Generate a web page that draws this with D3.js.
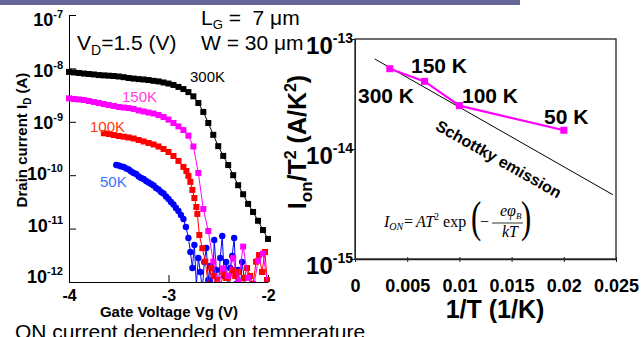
<!DOCTYPE html>
<html>
<head>
<meta charset="utf-8">
<script src="https://cdn.jsdelivr.net/npm/d3@7"></script>
<style>
  html, body { margin: 0; padding: 0; background: #fff; }
  svg { display: block; font-family: "Liberation Sans", Arial, sans-serif; }
  text { white-space: pre; }
</style>
</head>
<body>
<svg id="chart" width="644" height="337"></svg>
<script>
// ---------- left panel: Id-Vg curves ----------
const vgA = [-4.00, -3.95, -3.90, -3.85, -3.80, -3.75, -3.70, -3.65, -3.60, -3.55,
  -3.50, -3.45, -3.40, -3.35, -3.30, -3.25, -3.20, -3.15, -3.10, -3.05,
  -3.00, -2.95, -2.90, -2.85, -2.80, -2.75, -2.70, -2.65, -2.60, -2.55,
  -2.50, -2.45, -2.40, -2.35, -2.30, -2.25, -2.20, -2.15, -2.10, -2.05, -2.00];

const id300 = [8.6e-9, 8.4e-9, 8.2e-9, 8.0e-9, 7.85e-9, 7.7e-9, 7.5e-9, 7.4e-9, 7.3e-9, 7.2e-9,
  7.05e-9, 6.85e-9, 6.6e-9, 6.45e-9, 6.3e-9, 6.2e-9, 6.05e-9, 5.85e-9, 5.7e-9, 5.45e-9,
  5.2e-9, 4.9e-9, 4.5e-9, 4.1e-9, 3.6e-9, 3.0e-9, 2.25e-9, 1.53e-9, 9.5e-10, 5.7e-10,
  3.5e-10, 2.3e-10, 1.55e-10, 1.0e-10, 6.5e-11, 4.4e-11, 2.9e-11, 2.05e-11, 1.4e-11, 9.4e-12, 6.4e-12];

const id150 = [2.75e-9, 2.67e-9, 2.62e-9, 2.56e-9, 2.45e-9, 2.35e-9, 2.25e-9, 2.15e-9, 2.06e-9, 1.98e-9,
  1.89e-9, 1.85e-9, 1.81e-9, 1.74e-9, 1.63e-9, 1.56e-9, 1.49e-9, 1.43e-9, 1.34e-9, 1.23e-9,
  1.1e-9, 9.5e-10, 8.2e-10, 7.0e-10, 5.5e-10, 3.45e-10, 1.1e-10, 2.33e-11, 9.0e-12,
  2.4e-12, 9e-13, 1.8e-12, 1.3e-12, 2.8e-12, 1e-12, 4.6e-12, 1.2e-12, 7e-13, 2.5e-12, 3.4e-12, 8e-13];

const vg100 = [-3.65, -3.60, -3.55, -3.50, -3.45, -3.40, -3.35, -3.30, -3.25, -3.20,
  -3.15, -3.10, -3.05, -3.00, -2.95, -2.90, -2.85, -2.82, -2.80, -2.78,
  -2.76, -2.74, -2.72, -2.71, -2.69, -2.66,
  -2.63, -2.60, -2.57, -2.54, -2.51, -2.48, -2.45, -2.42, -2.39, -2.36,
  -2.33, -2.30, -2.27, -2.24, -2.21, -2.18, -2.15, -2.12, -2.09, -2.06, -2.03, -2.01];
const id100 = [6.1e-10, 5.9e-10, 5.66e-10, 5.42e-10, 5.26e-10, 5.08e-10, 4.87e-10, 4.56e-10, 4.28e-10, 4.01e-10,
  3.76e-10, 3.45e-10, 3.1e-10, 2.72e-10, 2.29e-10, 1.85e-10, 1.43e-10, 1.2e-10, 9.7e-11, 7.5e-11,
  5.3e-11, 3.74e-11, 2.54e-11, 1.88e-11, 7.6e-12, 4.3e-12,
  2.4e-12, 8.8e-13, 1.83e-12, 1.3e-12, 1.09e-12, 7.1e-13, 1.54e-12, 1.19e-12, 8.4e-13, 1.68e-12,
  1.3e-12, 1.54e-12, 7.1e-13, 1.19e-12, 1.83e-12, 1.3e-12, 9.2e-13, 2.4e-12, 3.2e-12, 1.54e-12, 3.65e-12, 1.09e-12];

const vg50 = [-3.525, -3.5, -3.475, -3.45, -3.425, -3.4, -3.375, -3.35, -3.325, -3.3,
  -3.275, -3.25, -3.225, -3.2, -3.175, -3.15, -3.125, -3.1, -3.075, -3.05,
  -3.025, -3.0, -2.975, -2.95, -2.925, -2.9, -2.875, -2.85, -2.825, -2.8,
  -2.78, -2.76, -2.74, -2.72, -2.70, -2.68, -2.66, -2.64, -2.62, -2.60,
  -2.58, -2.56, -2.54, -2.52, -2.50, -2.48, -2.46, -2.44, -2.42, -2.40,
  -2.38, -2.36, -2.34, -2.32, -2.30, -2.28, -2.26, -2.24, -2.22];
const id50 = [1.55e-10, 1.52e-10, 1.46e-10, 1.43e-10, 1.34e-10, 1.28e-10, 1.17e-10, 1.1e-10, 1.05e-10, 9.46e-11,
  8.87e-11, 8.5e-11, 7.79e-11, 7.3e-11, 6.84e-11, 6.41e-11, 5.75e-11, 5.4e-11, 4.84e-11, 4.54e-11,
  3.99e-11, 3.58e-11, 3.15e-11, 2.83e-11, 2.43e-11, 2.14e-11, 1.8e-11, 1.51e-11, 1.07e-11, 6.7e-12,
  3.65e-12, 1.83e-12, 4.93e-12, 8.8e-13, 2.81e-12, 1.54e-12, 7.1e-13, 2.37e-12, 4.33e-12, 1.09e-12,
  2.0e-12, 6.5e-13, 6.1e-12, 1.68e-12, 7.7e-13, 2.81e-12, 7.3e-12, 1.29e-12, 2.37e-12, 7.1e-13,
  1.83e-12, 3.07e-12, 6.7e-12, 9.2e-13, 1.68e-12, 6.5e-13, 2.37e-12, 1.19e-12, 8.4e-13];

const leftDecades = [1e-7, 1e-8, 1e-9, 1e-10, 1e-11, 1e-12];
const leftXTicks = [-4, -3, -2];

// ---------- right panel: Ion/T^2 vs 1/T ----------
const tempK = [300, 150, 100, 50];
const ionT2 = [5.37e-14, 4.12e-14, 2.48e-14, 1.48e-14];
const schottkyInvT = [0.0019, 0.0247];
const schottkyVal = [6.58e-14, 3.84e-15];
const rightDecades = [1e-13, 1e-14, 1e-15];
const rightXTicks = [0, 0.005, 0.01, 0.015, 0.02, 0.025];

const svg = d3.select('#chart');
const bold = 'bold';

// banner strip at the very top
svg.append('rect')
  .attr('x', 0).attr('y', 0).attr('width', 520).attr('height', 5)
  .attr('fill', '#666699');

// ===== left chart =====
const xL = d3.scaleLinear().domain([-4, -2]).range([69, 268]);
const yL = d3.scaleLog().domain([1e-12, 1e-7]).range([282, 15]);
const yLabL = d3.scaleLog().domain([1e-12, 1e-7]).range([283, 26]);

svg.append('clipPath').attr('id', 'clipL')
  .append('rect').attr('x', 60).attr('y', 0).attr('width', 220).attr('height', 282);

const left = svg.append('g');

left.append('g')
  .attr('transform', 'translate(69,0)')
  .call(d3.axisLeft(yL).tickValues(leftDecades).tickSize(-7).tickSizeOuter(0).tickFormat(''))
  .call(g => g.selectAll('line,path').attr('stroke', '#000'));

left.append('g')
  .attr('transform', 'translate(0,282)')
  .call(d3.axisBottom(xL).tickValues(leftXTicks).tickSize(-7).tickSizeOuter(0).tickPadding(8)
    .tickFormat(d3.format('d')))
  .call(g => g.selectAll('line,path').attr('stroke', '#000'))
  .call(g => g.selectAll('text')
    .attr('fill', '#000').attr('font-size', 16).attr('font-weight', bold)
    .attr('font-family', '"Liberation Sans", Arial, sans-serif')
    .text(d => String(d)));

// y tick labels 10^n
const yl = left.selectAll('.ylab').data(leftDecades).enter().append('text')
  .attr('class', 'ylab')
  .attr('x', 63).attr('y', d => yLabL(d))
  .attr('text-anchor', 'end').attr('font-weight', bold).attr('font-size', 18);
yl.append('tspan').text('10');
yl.append('tspan').attr('dy', -8).attr('font-size', 11).text(d => Math.round(Math.log10(d)));

left.append('text')
  .attr('transform', 'translate(27,140) rotate(-90)')
  .attr('text-anchor', 'middle').attr('font-weight', bold).attr('font-size', 15)
  .call(t => {
    t.append('tspan').text('Drain current I');
    t.append('tspan').attr('dy', 4).attr('font-size', 10).text('D');
    t.append('tspan').attr('dy', -4).text(' (A)');
  });

left.append('text')
  .attr('x', 169).attr('y', 317)
  .attr('text-anchor', 'middle').attr('font-weight', bold).attr('font-size', 15)
  .text('Gate Voltage Vg (V)');

const plotL = left.append('g').attr('clip-path', 'url(#clipL)');

function drawCurve(xs, ys, color, shape) {
  const pts = xs.map((v, i) => [v, ys[i]]);
  plotL.append('path')
    .datum(pts)
    .attr('d', d3.line().x(d => xL(d[0])).y(d => yL(d[1])))
    .attr('fill', 'none').attr('stroke', color).attr('stroke-width', 1);
  if (shape === 'circle') {
    plotL.selectAll(null).data(pts).enter().append('circle')
      .attr('cx', d => xL(d[0])).attr('cy', d => yL(d[1])).attr('r', 3.2)
      .attr('fill', color);
  } else {
    plotL.selectAll(null).data(pts).enter().append('rect')
      .attr('x', d => xL(d[0]) - 3).attr('y', d => yL(d[1]) - 3)
      .attr('width', 6).attr('height', 6)
      .attr('fill', color);
  }
}

drawCurve(vg50, id50, '#0000ff', 'circle');
drawCurve(vg100, id100, '#ff0000', 'square');
drawCurve(vgA, id150, '#ff00ff', 'square');
drawCurve(vgA, id300, '#000000', 'square');

// curve labels
left.append('text').attr('x', 190).attr('y', 82).attr('font-size', 15).attr('fill', '#000').text('300K');
left.append('text').attr('x', 122).attr('y', 102).attr('font-size', 15).attr('fill', '#ff40e0').text('150K');
left.append('text').attr('x', 90).attr('y', 132).attr('font-size', 15).attr('fill', '#ff3a10').text('100K');
left.append('text').attr('x', 100).attr('y', 187).attr('font-size', 15).attr('fill', '#4070ff').text('50K');

// device info text
svg.append('text').attr('x', 77).attr('y', 50).attr('font-size', 21)
  .call(t => {
    t.append('tspan').text('V');
    t.append('tspan').attr('dy', 5).attr('font-size', 14).text('D');
    t.append('tspan').attr('dy', -5).text('=1.5 (V)');
  });
svg.append('text').attr('x', 201).attr('y', 25).attr('font-size', 21)
  .call(t => {
    t.append('tspan').text('L');
    t.append('tspan').attr('dy', 4).attr('font-size', 13).text('G');
    t.append('tspan').attr('dy', -4).text(' =  7 \u03bcm');
  });
svg.append('text').attr('x', 201).attr('y', 50).attr('font-size', 21).text('W = 30 \u03bcm');

// ===== right chart =====
const xR = d3.scaleLinear().domain([0, 0.025]).range([355, 616]);
const yR = d3.scaleLog().domain([1e-15, 1e-13]).range([259, 39]);

const right = svg.append('g');

right.append('rect')
  .attr('x', xR(0)).attr('y', yR(1e-13))
  .attr('width', xR(0.025) - xR(0)).attr('height', yR(1e-15) - yR(1e-13))
  .attr('fill', 'none').attr('stroke', '#222').attr('stroke-width', 1.3);

right.append('g')
  .attr('transform', `translate(0,${yR(1e-15)})`)
  .call(d3.axisBottom(xR).tickValues(rightXTicks).tickSizeInner(-5).tickSizeOuter(0).tickPadding(20)
    .tickFormat(d => String(d)))
  .call(g => g.select('.domain').attr('stroke', '#222').attr('stroke-width', 1.3))
  .call(g => g.selectAll('line').attr('stroke', '#222').attr('transform', 'translate(0,3)'))
  .call(g => g.selectAll('text')
    .attr('fill', '#000').attr('font-size', 18).attr('font-weight', bold)
    .attr('font-family', '"Liberation Sans", Arial, sans-serif'));

right.append('g')
  .attr('transform', `translate(${xR(0)},0)`)
  .call(d3.axisLeft(yR).tickValues(rightDecades).tickSize(5).tickSizeOuter(0).tickFormat(''))
  .call(g => g.selectAll('line,path').attr('stroke', '#222'));

const yr = right.selectAll('.ylabR').data(rightDecades).enter().append('text')
  .attr('class', 'ylabR')
  .attr('x', 353).attr('y', d => yR(d) + 15)
  .attr('text-anchor', 'end').attr('font-weight', bold).attr('font-size', 24);
yr.append('tspan').text('10');
yr.append('tspan').attr('dy', -11).attr('font-size', 14).text(d => Math.round(Math.log10(d)));

right.append('text')
  .attr('transform', 'translate(306,142) rotate(-90)')
  .attr('text-anchor', 'middle').attr('font-weight', bold).attr('font-size', 25)
  .call(t => {
    t.append('tspan').text('I');
    t.append('tspan').attr('dy', 6).attr('font-size', 17).text('on');
    t.append('tspan').attr('dy', -6).text('/T');
    t.append('tspan').attr('dy', -10).attr('font-size', 16).text('2');
    t.append('tspan').attr('dy', 10).text(' (A/K');
    t.append('tspan').attr('dy', -10).attr('font-size', 16).text('2');
    t.append('tspan').attr('dy', 10).text(')');
  });

right.append('text')
  .attr('x', 495).attr('y', 318)
  .attr('text-anchor', 'middle').attr('font-weight', bold).attr('font-size', 25)
  .text('1/T (1/K)');

// Schottky emission fit line
const fit = schottkyInvT.map((v, i) => [v, schottkyVal[i]]);
right.append('path')
  .datum(fit)
  .attr('d', d3.line().x(d => xR(d[0])).y(d => yR(d[1])))
  .attr('stroke', '#000').attr('stroke-width', 1).attr('fill', 'none');

// measured points
const meas = tempK.map((t, i) => [1 / t, ionT2[i]]);
right.append('path')
  .datum(meas)
  .attr('d', d3.line().x(d => xR(d[0])).y(d => yR(d[1])))
  .attr('stroke', '#ff00ff').attr('stroke-width', 2.2).attr('fill', 'none');
right.selectAll(null).data(meas).enter().append('rect')
  .attr('x', d => xR(d[0]) - 3.5).attr('y', d => yR(d[1]) - 3.5)
  .attr('width', 7).attr('height', 7).attr('fill', '#ff00ff');

// point labels
right.append('text').attr('x', 358).attr('y', 103).attr('font-size', 21).attr('font-weight', bold).text('300 K');
right.append('text').attr('x', 411).attr('y', 73).attr('font-size', 21).attr('font-weight', bold).text('150 K');
right.append('text').attr('x', 462).attr('y', 103).attr('font-size', 21).attr('font-weight', bold).text('100 K');
right.append('text').attr('x', 544).attr('y', 124).attr('font-size', 21).attr('font-weight', bold).text('50 K');

right.append('text')
  .attr('transform', 'translate(496,164) rotate(29.5)')
  .attr('text-anchor', 'middle').attr('font-size', 16).attr('font-weight', bold)
  .text('Schottky emission');

// formula I_ON = A T^2 exp(-e phi_B / kT)
const fm = right.append('g')
  .attr('font-family', '"Liberation Serif", "Times New Roman", serif')
  .attr('font-size', 16);
fm.append('text').attr('x', 384).attr('y', 227).attr('font-style', 'italic')
  .call(t => {
    t.append('tspan').text('I');
    t.append('tspan').attr('dy', 3).attr('font-size', 10).text('ON');
  });
fm.append('text').attr('x', 404).attr('y', 227).text('=');
fm.append('text').attr('x', 416).attr('y', 227)
  .call(t => {
    t.append('tspan').attr('font-style', 'italic').text('AT');
    t.append('tspan').attr('dy', -7).attr('font-size', 10).text('2');
    t.append('tspan').attr('dy', 7).text(' exp');
  });
fm.append('text').attr('transform', 'translate(471,232) scale(0.7,1)')
  .attr('font-size', 44).text('(');
fm.append('text').attr('transform', 'translate(521,232) scale(0.7,1)')
  .attr('font-size', 44).text(')');
fm.append('text').attr('x', 480).attr('y', 227).text('\u2212');
fm.append('text').attr('x', 500).attr('y', 216).attr('font-style', 'italic')
  .call(t => {
    t.append('tspan').text('e\u03c6');
    t.append('tspan').attr('dy', 3).attr('font-size', 9).text('B');
  });
fm.append('line').attr('x1', 492).attr('x2', 523).attr('y1', 223).attr('y2', 223)
  .attr('stroke', '#000').attr('stroke-width', 0.8);
fm.append('text').attr('x', 502).attr('y', 237).attr('font-style', 'italic').text('kT');

// caption line cut at the bottom
svg.append('text').attr('x', 15).attr('y', 339).attr('font-size', 21)
  .text('ON current depended on temperature');
</script>
</body>
</html>
